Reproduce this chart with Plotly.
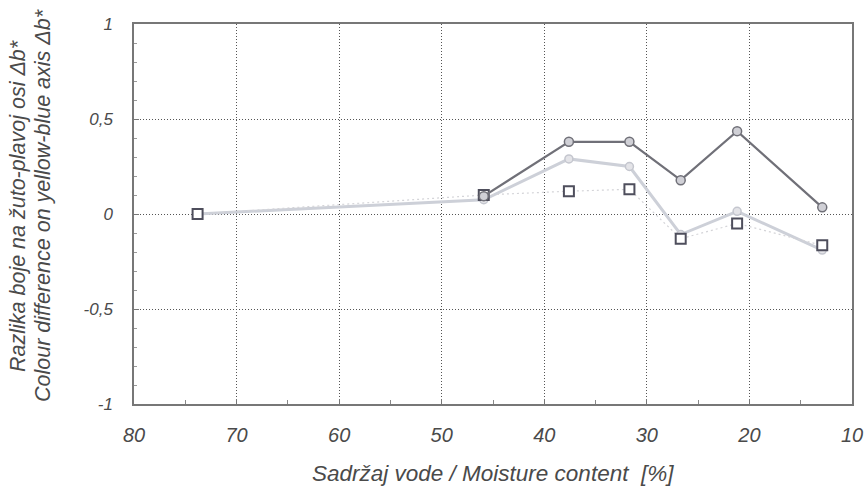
import plotly.graph_objects as go

# Data
moisture = [73.8, 45.9, 37.6, 31.7, 26.7, 21.2, 12.9]
series_dark = [None, 0.094, 0.38, 0.38, 0.178, 0.436, 0.035]
series_light = [0.0, 0.075, 0.29, 0.25, -0.108, 0.014, -0.19]
series_square = [0.0, 0.10, 0.12, 0.13, -0.13, -0.05, -0.165]

x_ticks = [80, 70, 60, 50, 40, 30, 20, 10]
y_ticks = [1, 0.5, 0, -0.5, -1]
y_tick_text = ["1", "0,5", "0", "-0,5", "-1"]

FONT = "Liberation Sans, Arial, sans-serif"
TXT = "#4a4a4a"

L, R, T, B = 134, 13, 24, 82
PW, PH = 865 - L - R, 486 - T - B

fig = go.Figure()

fig.add_trace(go.Scatter(
    x=moisture, y=series_light, mode="lines+markers",
    line=dict(color="#cdd0d8", width=3),
    marker=dict(symbol="circle", size=8, color="#e4e4e8",
                line=dict(color="#c4c6ce", width=1.5)),
    showlegend=False))

fig.add_trace(go.Scatter(
    x=moisture, y=series_square, mode="lines+markers",
    line=dict(color="#d4d4d8", width=1.2, dash="2px,3px"),
    marker=dict(symbol="square", size=10, color="white",
                line=dict(color="#4e4e5c", width=2)),
    showlegend=False))

fig.add_trace(go.Scatter(
    x=moisture, y=series_dark, mode="lines+markers",
    line=dict(color="#707078", width=2.2),
    marker=dict(symbol="circle", size=9, color="#d0d0d6",
                line=dict(color="#707078", width=1.5)),
    connectgaps=False, showlegend=False))

fig.update_layout(
    width=865, height=486,
    margin=dict(l=L, r=R, t=T, b=B, autoexpand=False),
    paper_bgcolor="white", plot_bgcolor="white",
    font=dict(family=FONT, color=TXT, size=16),
)

fig.update_xaxes(
    range=[80, 10], tickvals=x_ticks, ticktext=[str(v) for v in x_ticks],
    tickfont=dict(family=FONT, size=20, color=TXT, style="italic"),
    showgrid=True, gridcolor="#555555", griddash="1px,2px", gridwidth=1,
    showline=True, linecolor="#777777", linewidth=1.5, mirror=True,
    ticks="inside", ticklen=5, tickcolor="#777777",
    minor=dict(dtick=5, ticks="inside", ticklen=4, tickcolor="#888888", showgrid=False),
    zeroline=False, ticklabelstandoff=12, automargin=False,
)

fig.update_yaxes(
    range=[-1, 1], tickvals=y_ticks, ticktext=y_tick_text,
    tickfont=dict(family=FONT, size=17, color=TXT, style="italic"),
    showgrid=True, gridcolor="#555555", griddash="1px,2px", gridwidth=1,
    showline=True, linecolor="#777777", linewidth=1.5, mirror=True,
    ticks="inside", ticklen=5, tickcolor="#777777",
    minor=dict(dtick=0.1, ticks="inside", ticklen=3, tickcolor="#999999", showgrid=False),
    zeroline=False, ticklabelstandoff=16, automargin=False,
)

# x-axis title
fig.add_annotation(
    text="<i>Sadržaj vode / Moisture content  [%]</i>",
    xref="paper", yref="paper", x=0.5, y=-(473 - (486 - B)) / PH,
    xanchor="center", yanchor="middle", showarrow=False,
    font=dict(family=FONT, size=22.5, color=TXT))

# y-axis title (two lines)
ycen = (486 - B - 206) / PH
fig.add_annotation(
    text="<i>Razlika boje na žuto-plavoj osi Δb*</i>",
    xref="paper", yref="paper", x=(18 - L) / PW, y=ycen,
    xanchor="center", yanchor="middle", textangle=-90, showarrow=False,
    font=dict(family=FONT, size=21.5, color=TXT))
fig.add_annotation(
    text="<i>Colour difference on yellow-blue axis Δb*</i>",
    xref="paper", yref="paper", x=(43 - L) / PW, y=ycen,
    xanchor="center", yanchor="middle", textangle=-90, showarrow=False,
    font=dict(family=FONT, size=21.5, color=TXT))

fig.write_html("out.html")
